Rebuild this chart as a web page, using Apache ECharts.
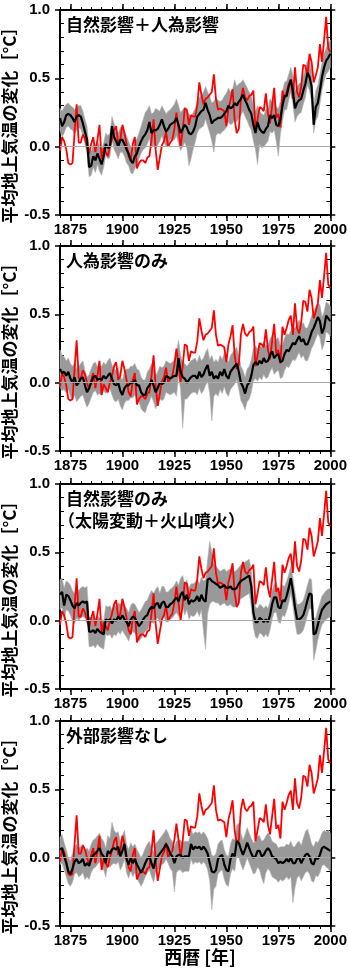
<!DOCTYPE html>
<html>
<head>
<meta charset="utf-8">
<script src="https://cdn.jsdelivr.net/npm/echarts@6/dist/echarts.min.js"></script>
<style>
  html, body { margin: 0; padding: 0; background: #fff; }
  #chart { width: 350px; height: 969px; }
</style>
</head>
<body>
<div id="chart"></div>
<script>
// 年（1870〜2000）
const years = Array.from({ length: 131 }, (_, k) => 1870 + k);
const xMajorTicks = [1875, 1900, 1925, 1950, 1975, 2000];

// 観測値（赤線、全パネル共通）
const observed = [
  -0.03, 0.07, 0.04, -0.02, -0.12, -0.13, -0.12, 0.10, 0.31, 0.03,
  0.03, 0.09, 0.06, 0.00, -0.05, 0.02, 0.07, -0.04, 0.05, 0.16,
  -0.09, -0.01, -0.04, -0.07, 0.00, 0.05, 0.12, 0.15, 0.02, 0.05,
  0.16, 0.10, 0.02, -0.07, -0.10, 0.02, 0.07, -0.16, -0.12, -0.10,
  -0.10, -0.12, -0.08, -0.07, 0.05, 0.20, -0.02, -0.17, -0.08, 0.01,
  0.04, 0.11, 0.00, 0.03, 0.05, 0.13, 0.25, 0.13, 0.00, 0.12,
  0.28, 0.27, 0.16, 0.23, 0.22, 0.22, 0.30, 0.47, 0.38, 0.31,
  0.35, 0.36, 0.38, 0.40, 0.53, 0.35, 0.27, 0.28, 0.27, 0.26,
  0.15, 0.28, 0.34, 0.42, 0.20, 0.10, 0.13, 0.35, 0.43, 0.36,
  0.34, 0.37, 0.38, 0.41, 0.12, 0.20, 0.29, 0.28, 0.26, 0.39,
  0.24, 0.17, 0.30, 0.43, 0.21, 0.24, 0.14, 0.41, 0.35, 0.40,
  0.46, 0.49, 0.35, 0.58, 0.40, 0.36, 0.44, 0.60, 0.59, 0.52,
  0.68, 0.62, 0.47, 0.52, 0.58, 0.75, 0.62, 0.78, 0.95, 0.72,
  0.69
];

// パネル1: 自然影響＋人為影響
const allMean = [
  0.21, 0.15, 0.18, 0.23, 0.24, 0.23, 0.21, 0.18, 0.22, 0.23,
  0.22, 0.17, 0.11, 0.05, -0.15, -0.14, -0.07, -0.10, -0.05, -0.09,
  -0.13, -0.07, 0.02, -0.01, 0.00, 0.15, 0.07, 0.04, 0.00, 0.05,
  0.05, 0.02, -0.02, -0.05, -0.10, -0.12, -0.07, -0.05, 0.00, 0.04,
  0.07, 0.09, 0.12, 0.18, 0.10, 0.12, 0.12, 0.13, 0.16, 0.20,
  0.15, 0.11, 0.13, 0.16, 0.17, 0.18, 0.21, 0.16, 0.10, 0.13,
  0.16, 0.14, 0.10, 0.09, 0.11, 0.15, 0.22, 0.24, 0.26, 0.27,
  0.32, 0.27, 0.23, 0.17, 0.19, 0.20, 0.21, 0.21, 0.22, 0.24,
  0.26, 0.30, 0.28, 0.29, 0.32, 0.30, 0.33, 0.35, 0.38, 0.34,
  0.31, 0.27, 0.24, 0.16, 0.10, 0.18, 0.13, 0.11, 0.10, 0.13,
  0.15, 0.23, 0.21, 0.23, 0.16, 0.15, 0.20, 0.30, 0.37, 0.37,
  0.44, 0.49, 0.41, 0.28, 0.32, 0.34, 0.35, 0.41, 0.46, 0.54,
  0.51, 0.44, 0.16, 0.29, 0.32, 0.41, 0.51, 0.58, 0.63, 0.65,
  0.68
];
const allHigh = [
  0.28, 0.26, 0.29, 0.31, 0.32, 0.30, 0.29, 0.27, 0.29, 0.30,
  0.30, 0.26, 0.20, 0.15, -0.02, -0.03, 0.02, 0.00, 0.04, 0.01,
  -0.02, 0.03, 0.10, 0.08, 0.10, 0.22, 0.17, 0.13, 0.10, 0.14,
  0.14, 0.11, 0.08, 0.04, 0.00, -0.02, 0.04, 0.06, 0.10, 0.15,
  0.20, 0.25, 0.27, 0.30, 0.24, 0.25, 0.28, 0.27, 0.26, 0.30,
  0.27, 0.24, 0.26, 0.27, 0.29, 0.31, 0.35, 0.30, 0.25, 0.27,
  0.29, 0.27, 0.24, 0.22, 0.25, 0.28, 0.33, 0.36, 0.38, 0.40,
  0.44, 0.40, 0.37, 0.32, 0.33, 0.36, 0.34, 0.33, 0.34, 0.37,
  0.39, 0.43, 0.40, 0.42, 0.49, 0.44, 0.46, 0.47, 0.49, 0.46,
  0.43, 0.40, 0.37, 0.30, 0.26, 0.30, 0.26, 0.24, 0.23, 0.27,
  0.28, 0.35, 0.33, 0.35, 0.29, 0.28, 0.33, 0.41, 0.47, 0.48,
  0.53, 0.58, 0.52, 0.41, 0.44, 0.46, 0.47, 0.52, 0.57, 0.63,
  0.62, 0.56, 0.30, 0.41, 0.45, 0.53, 0.61, 0.68, 0.72, 0.75,
  0.78
];
const allLow = [
  0.12, 0.07, 0.10, 0.14, 0.15, 0.13, 0.12, 0.09, 0.12, 0.14,
  0.13, 0.08, 0.02, -0.05, -0.22, -0.21, -0.15, -0.19, -0.13, -0.18,
  -0.21, -0.15, -0.06, -0.09, -0.08, 0.05, -0.02, -0.05, -0.09, -0.04,
  -0.04, -0.07, -0.12, -0.14, -0.19, -0.20, -0.16, -0.13, -0.09, -0.05,
  -0.02, -0.01, 0.02, 0.06, -0.01, 0.01, -0.02, 0.01, 0.04, 0.08,
  0.03, 0.00, 0.01, 0.05, 0.05, 0.05, 0.08, 0.02, -0.03, 0.00,
  0.03, -0.01, -0.14, -0.09, -0.02, 0.03, 0.10, 0.13, 0.14, 0.15,
  0.20, 0.15, 0.10, 0.04, -0.04, 0.08, 0.10, 0.09, 0.11, 0.12,
  0.14, 0.18, 0.16, 0.17, 0.20, 0.18, 0.21, 0.23, 0.26, 0.22,
  0.19, 0.15, 0.12, 0.04, -0.02, -0.13, 0.02, -0.01, 0.00, 0.02,
  0.04, 0.11, 0.10, 0.12, 0.04, -0.07, 0.09, 0.19, 0.27, 0.27,
  0.34, 0.40, 0.31, 0.18, 0.22, 0.24, 0.25, 0.31, 0.36, 0.45,
  0.41, 0.33, 0.10, 0.19, 0.22, 0.31, 0.41, 0.48, 0.53, 0.55,
  0.58
];

// パネル2: 人為影響のみ
const anthMean = [
  0.10, 0.07, 0.08, 0.05, 0.08, 0.03, 0.00, 0.04, -0.02, 0.00,
  0.03, 0.04, -0.02, -0.07, -0.04, 0.00, 0.04, 0.05, 0.02, 0.03,
  0.02, 0.05, 0.03, 0.05, 0.07, 0.03, -0.01, -0.02, 0.00, -0.06,
  -0.09, -0.04, -0.02, -0.02, 0.00, 0.00, 0.02, -0.02, -0.02, -0.07,
  -0.09, -0.09, -0.04, -0.02, 0.02, -0.02, -0.07, -0.04, 0.00, -0.01,
  0.00, 0.05, 0.04, 0.03, 0.04, 0.05, 0.05, 0.18, 0.08, 0.04,
  0.03, 0.00, 0.02, 0.04, 0.05, 0.05, 0.03, 0.08, 0.04, 0.06,
  0.10, 0.13, 0.05, 0.08, 0.03, 0.05, 0.03, 0.08, 0.05, 0.10,
  0.05, 0.03, 0.08, 0.10, 0.12, 0.14, 0.08, 0.00, -0.03, -0.08,
  -0.02, 0.00, 0.05, 0.13, 0.15, 0.13, 0.16, 0.14, 0.18, 0.15,
  0.16, 0.20, 0.23, 0.18, 0.20, 0.21, 0.15, 0.16, 0.21, 0.24,
  0.23, 0.26, 0.29, 0.28, 0.31, 0.34, 0.30, 0.32, 0.28, 0.28,
  0.32, 0.37, 0.40, 0.44, 0.48, 0.45, 0.36, 0.40, 0.49, 0.47,
  0.45
];
const anthHigh = [
  0.24, 0.20, 0.19, 0.16, 0.18, 0.14, 0.12, 0.15, 0.10, 0.12,
  0.14, 0.16, 0.09, 0.04, 0.06, 0.10, 0.14, 0.15, 0.12, 0.13,
  0.12, 0.15, 0.13, 0.16, 0.18, 0.13, 0.10, 0.09, 0.11, 0.05,
  0.02, 0.08, 0.10, 0.10, 0.12, 0.12, 0.14, 0.10, 0.09, 0.04,
  0.02, 0.02, 0.08, 0.10, 0.14, 0.10, 0.05, 0.08, 0.12, 0.11,
  0.12, 0.16, 0.15, 0.14, 0.15, 0.17, 0.22, 0.31, 0.20, 0.15,
  0.14, 0.12, 0.14, 0.16, 0.17, 0.18, 0.15, 0.20, 0.16, 0.18,
  0.22, 0.25, 0.17, 0.20, 0.15, 0.17, 0.15, 0.20, 0.17, 0.22,
  0.17, 0.15, 0.20, 0.22, 0.24, 0.26, 0.20, 0.12, 0.09, 0.04,
  0.10, 0.12, 0.17, 0.25, 0.27, 0.25, 0.28, 0.26, 0.30, 0.27,
  0.28, 0.32, 0.35, 0.30, 0.32, 0.33, 0.27, 0.28, 0.33, 0.36,
  0.35, 0.38, 0.41, 0.40, 0.43, 0.46, 0.42, 0.44, 0.40, 0.40,
  0.44, 0.49, 0.52, 0.56, 0.58, 0.57, 0.48, 0.52, 0.59, 0.58,
  0.56
];
const anthLow = [
  -0.03, -0.06, -0.05, -0.08, -0.05, -0.10, -0.13, -0.09, -0.14, -0.12,
  -0.10, -0.09, -0.14, -0.18, -0.15, -0.11, -0.07, -0.06, -0.09, -0.08,
  -0.09, -0.06, -0.08, -0.06, -0.04, -0.09, -0.13, -0.14, -0.12, -0.17,
  -0.20, -0.15, -0.13, -0.13, -0.11, -0.11, -0.09, -0.13, -0.14, -0.19,
  -0.21, -0.22, -0.17, -0.14, -0.10, -0.14, -0.19, -0.16, -0.12, -0.13,
  -0.12, -0.07, -0.08, -0.09, -0.08, -0.07, -0.10, 0.04, -0.05, -0.33,
  -0.12, -0.12, -0.10, -0.08, -0.07, -0.07, -0.09, -0.04, -0.08, -0.06,
  -0.02, 0.01, -0.08, -0.28, -0.10, -0.08, -0.10, -0.05, -0.08, -0.03,
  -0.08, -0.10, -0.05, -0.03, -0.01, 0.02, -0.05, -0.13, -0.16, -0.20,
  -0.14, -0.12, -0.07, 0.01, 0.03, 0.01, 0.04, 0.02, 0.06, 0.03,
  0.04, 0.08, 0.11, 0.06, 0.08, 0.09, 0.03, 0.04, 0.09, 0.12,
  0.11, 0.14, 0.17, 0.16, 0.19, 0.22, 0.18, 0.20, 0.16, 0.16,
  0.20, 0.25, 0.28, 0.32, 0.36, 0.33, 0.24, 0.28, 0.37, 0.36,
  0.34
];

// パネル3: 自然影響のみ
const natMean = [
  0.19, 0.21, 0.11, 0.19, 0.18, 0.15, 0.11, 0.09, 0.13, 0.11,
  0.13, 0.14, 0.13, 0.14, -0.08, -0.08, -0.07, -0.09, -0.06, -0.08,
  -0.09, -0.10, 0.01, 0.00, 0.01, -0.02, 0.01, 0.00, 0.03, 0.01,
  0.04, 0.01, -0.01, -0.04, 0.01, 0.03, 0.02, -0.01, -0.04, -0.02,
  0.01, 0.03, 0.04, 0.08, 0.10, 0.09, 0.12, 0.13, 0.09, 0.13,
  0.14, 0.10, 0.10, 0.12, 0.13, 0.15, 0.17, 0.14, 0.19, 0.21,
  0.15, 0.19, 0.12, 0.15, 0.14, 0.15, 0.18, 0.14, 0.19, 0.15,
  0.14, 0.30, 0.31, 0.29, 0.28, 0.27, 0.26, 0.24, 0.25, 0.26,
  0.24, 0.24, 0.25, 0.23, 0.23, 0.24, 0.27, 0.29, 0.30, 0.31,
  0.32, 0.33, 0.25, 0.06, -0.01, -0.01, 0.02, 0.01, -0.01, 0.01,
  -0.01, 0.04, 0.12, 0.17, 0.17, 0.10, 0.09, 0.15, 0.14, 0.18,
  0.24, 0.31, 0.22, 0.10, 0.01, 0.01, 0.02, 0.04, 0.09, 0.15,
  0.20, 0.19, -0.10, -0.09, -0.03, 0.03, 0.08, 0.10, 0.12, 0.13,
  0.14
];
const natHigh = [
  0.30, 0.31, 0.24, 0.29, 0.28, 0.26, 0.22, 0.20, 0.24, 0.22,
  0.24, 0.25, 0.24, 0.25, 0.03, 0.02, 0.03, 0.01, 0.04, 0.02,
  0.01, 0.00, 0.11, 0.10, 0.11, 0.08, 0.12, 0.10, 0.13, 0.12,
  0.14, 0.11, 0.09, 0.06, 0.11, 0.13, 0.12, 0.09, 0.06, 0.08,
  0.11, 0.14, 0.15, 0.19, 0.22, 0.20, 0.23, 0.25, 0.20, 0.25,
  0.25, 0.21, 0.21, 0.23, 0.24, 0.26, 0.29, 0.26, 0.31, 0.33,
  0.27, 0.30, 0.24, 0.27, 0.27, 0.28, 0.31, 0.27, 0.32, 0.29,
  0.30, 0.45, 0.58, 0.50, 0.42, 0.40, 0.38, 0.36, 0.37, 0.38,
  0.36, 0.37, 0.38, 0.36, 0.36, 0.37, 0.39, 0.41, 0.42, 0.43,
  0.44, 0.45, 0.37, 0.20, 0.10, 0.09, 0.12, 0.11, 0.09, 0.11,
  0.09, 0.14, 0.22, 0.27, 0.28, 0.21, 0.20, 0.26, 0.25, 0.29,
  0.34, 0.40, 0.32, 0.21, 0.12, 0.12, 0.13, 0.15, 0.20, 0.26,
  0.31, 0.30, 0.02, 0.02, 0.08, 0.13, 0.18, 0.20, 0.22, 0.23,
  0.24
];
const natLow = [
  0.08, 0.10, 0.00, 0.08, 0.07, 0.04, 0.00, -0.02, 0.02, 0.00,
  0.02, 0.03, 0.02, 0.03, -0.19, -0.19, -0.18, -0.20, -0.17, -0.19,
  -0.20, -0.21, -0.10, -0.11, -0.10, -0.13, -0.10, -0.11, -0.08, -0.10,
  -0.07, -0.10, -0.12, -0.15, -0.10, -0.08, -0.09, -0.12, -0.15, -0.13,
  -0.10, -0.08, -0.07, -0.03, -0.01, -0.02, 0.01, 0.02, -0.02, 0.02,
  0.03, -0.01, -0.01, 0.01, 0.02, 0.04, 0.06, 0.03, 0.08, 0.10,
  0.04, 0.08, 0.01, 0.04, 0.03, 0.04, 0.07, 0.03, 0.08, -0.08,
  -0.21, 0.05, 0.12, 0.14, 0.14, 0.13, 0.13, 0.11, 0.12, 0.13,
  0.11, 0.11, 0.12, 0.10, 0.10, 0.11, 0.14, 0.16, 0.17, 0.18,
  0.19, 0.20, 0.10, -0.05, -0.12, -0.13, -0.09, -0.10, -0.12, -0.10,
  -0.12, -0.07, 0.01, 0.06, 0.06, -0.01, -0.02, 0.04, 0.03, 0.07,
  0.13, 0.20, 0.11, -0.01, -0.10, -0.10, -0.09, -0.07, -0.02, 0.04,
  0.09, 0.08, -0.29, -0.22, -0.14, -0.08, -0.03, -0.01, 0.01, 0.02,
  0.03
];

// パネル4: 外部影響なし
const ctrlMean = [
  0.06, 0.07, 0.01, -0.04, -0.10, -0.12, -0.08, -0.03, -0.01, -0.04,
  -0.03, -0.01, -0.06, -0.04, -0.06, -0.01, 0.02, 0.03, 0.05, 0.07,
  0.03, 0.01, -0.04, 0.05, 0.03, 0.06, 0.07, 0.06, 0.08, 0.01,
  0.05, 0.10, -0.01, -0.05, 0.00, -0.04, -0.01, -0.05, -0.08, -0.11,
  -0.08, -0.04, -0.01, 0.01, -0.04, -0.08, -0.01, 0.01, 0.03, 0.05,
  0.07, 0.10, 0.07, 0.03, 0.01, -0.04, 0.01, 0.02, 0.02, 0.00,
  0.01, 0.01, 0.01, 0.10, 0.06, 0.08, 0.07, 0.08, 0.06, 0.08,
  0.06, 0.03, -0.04, -0.10, -0.11, -0.09, -0.01, 0.01, 0.02, -0.05,
  -0.09, -0.10, -0.01, 0.03, 0.01, 0.12, 0.11, 0.06, 0.02, 0.06,
  0.11, 0.07, 0.03, 0.00, 0.01, 0.05, 0.05, 0.01, 0.02, 0.05,
  0.07, 0.05, 0.01, 0.00, -0.01, -0.04, -0.03, -0.04, -0.03, -0.01,
  -0.03, 0.00, -0.04, -0.04, -0.01, 0.00, -0.04, -0.01, 0.02, 0.03,
  0.01, -0.04, -0.05, 0.00, -0.01, 0.02, 0.07, 0.08, 0.07, 0.06,
  0.05
];
const ctrlHigh = [
  0.15, 0.17, 0.11, 0.06, 0.00, -0.02, 0.03, 0.08, 0.10, 0.07,
  0.08, 0.10, 0.05, 0.07, 0.05, 0.10, 0.13, 0.14, 0.16, 0.18,
  0.14, 0.12, 0.07, 0.16, 0.14, 0.26, 0.20, 0.18, 0.19, 0.12,
  0.16, 0.20, 0.10, 0.06, 0.11, 0.08, 0.10, 0.06, 0.03, 0.00,
  0.03, 0.07, 0.10, 0.12, 0.07, 0.04, 0.10, 0.12, 0.14, 0.16,
  0.18, 0.21, 0.18, 0.14, 0.12, 0.08, 0.12, 0.13, 0.13, 0.11,
  0.12, 0.12, 0.12, 0.21, 0.17, 0.19, 0.18, 0.19, 0.17, 0.19,
  0.17, 0.14, 0.08, 0.02, 0.01, 0.03, 0.10, 0.12, 0.13, 0.06,
  0.02, 0.01, 0.10, 0.14, 0.13, 0.24, 0.25, 0.18, 0.13, 0.17,
  0.22, 0.18, 0.14, 0.11, 0.12, 0.16, 0.16, 0.12, 0.13, 0.16,
  0.18, 0.16, 0.12, 0.11, 0.10, 0.07, 0.08, 0.08, 0.08, 0.10,
  0.09, 0.12, 0.08, 0.08, 0.11, 0.12, 0.09, 0.14, 0.19, 0.21,
  0.16, 0.10, 0.08, 0.12, 0.11, 0.14, 0.18, 0.20, 0.19, 0.20,
  0.18
];
const ctrlLow = [
  -0.05, -0.04, -0.09, -0.14, -0.19, -0.21, -0.18, -0.12, -0.11, -0.14,
  -0.13, -0.11, -0.16, -0.14, -0.16, -0.11, -0.08, -0.07, -0.05, -0.03,
  -0.07, -0.09, -0.14, -0.05, -0.07, -0.05, -0.04, -0.05, -0.03, -0.09,
  -0.06, -0.01, -0.11, -0.15, -0.10, -0.14, -0.11, -0.15, -0.18, -0.21,
  -0.18, -0.14, -0.11, -0.09, -0.14, -0.18, -0.11, -0.09, -0.07, -0.05,
  -0.04, -0.01, -0.04, -0.08, -0.10, -0.25, -0.11, -0.09, -0.09, -0.11,
  -0.10, -0.10, -0.10, -0.01, -0.05, -0.03, -0.04, -0.03, -0.05, -0.03,
  -0.05, -0.09, -0.17, -0.38, -0.23, -0.21, -0.12, -0.10, -0.09, -0.16,
  -0.20, -0.21, -0.12, -0.08, -0.10, 0.01, 0.00, -0.05, -0.09, -0.05,
  0.00, -0.04, -0.08, -0.12, -0.11, -0.07, -0.09, -0.15, -0.19, -0.11,
  -0.08, -0.10, -0.14, -0.15, -0.16, -0.18, -0.16, -0.17, -0.16, -0.14,
  -0.16, -0.14, -0.33, -0.22, -0.15, -0.13, -0.17, -0.14, -0.11, -0.10,
  -0.12, -0.17, -0.18, -0.13, -0.14, -0.11, -0.06, -0.05, -0.07, -0.08,
  -0.10
];

const panelTitles = [
  ["自然影響＋人為影響"],
  ["人為影響のみ"],
  ["自然影響のみ", "（太陽変動＋火山噴火）"],
  ["外部影響なし"]
];
const panelData = [
  { mean: allMean, low: allLow, high: allHigh },
  { mean: anthMean, low: anthLow, high: anthHigh },
  { mean: natMean, low: natLow, high: natHigh },
  { mean: ctrlMean, low: ctrlLow, high: ctrlHigh }
];
const panelTops = [10, 246, 484, 721];
const panelHeight = 205;

const numFont = { fontFamily: "Liberation Sans", fontWeight: "bold", fontSize: 15, color: "#000" };
const jpFont = '"Noto Sans CJK JP", sans-serif';

const grids = [], xAxes = [], yAxes = [], series = [], graphics = [];

panelTops.forEach((top, i) => {
  grids.push({ left: 60, width: 272, top: top, height: panelHeight });

  // x軸: 5年ごとの小目盛りと25年ごとの大目盛り（上下）
  ["bottom", "top"].forEach(pos => {
    xAxes.push({
      gridIndex: i, type: "value", position: pos, min: 1870, max: 2000, interval: 5,
      axisLine: { show: true, onZero: false, lineStyle: { color: "#000", width: 2 } },
      axisTick: { show: true, length: 3, lineStyle: { color: "#000", width: 1 } },
      axisLabel: pos === "bottom"
        ? Object.assign({ margin: 7, formatter: v => (v % 25 === 0 ? String(v) : "") }, numFont)
        : { show: false },
      splitLine: { show: false }
    });
    xAxes.push({
      gridIndex: i, type: "value", position: pos, min: 1870, max: 2000,
      axisLine: { show: false, onZero: false },
      axisTick: { show: true, length: 6, customValues: xMajorTicks, lineStyle: { color: "#000", width: 1.5 } },
      axisLabel: { show: false },
      splitLine: { show: false }
    });
  });

  // y軸: 0.5ごとの大目盛り（外向き）と0.1ごとの小目盛り（内向き）
  ["left", "right"].forEach(pos => {
    yAxes.push({
      gridIndex: i, type: "value", position: pos, min: -0.5, max: 1.0, interval: 0.5,
      axisLine: { show: true, onZero: false, lineStyle: { color: "#000", width: 2 } },
      axisTick: { show: true, length: 5, lineStyle: { color: "#000", width: 1.5 } },
      axisLabel: pos === "left"
        ? Object.assign({ margin: 10, formatter: v => v.toFixed(1) }, numFont)
        : { show: false },
      splitLine: { show: false }
    });
    yAxes.push({
      gridIndex: i, type: "value", position: pos, min: -0.5, max: 1.0, interval: 0.1,
      axisLine: { show: false, onZero: false },
      axisTick: { show: true, inside: true, length: 4, lineStyle: { color: "#000", width: 1 } },
      axisLabel: { show: false },
      splitLine: { show: false }
    });
  });

  const d = panelData[i];
  const xi = i * 4, yi = i * 4;

  // 灰色の幅（モデルの範囲）
  series.push({
    type: "custom", xAxisIndex: xi, yAxisIndex: yi, z: 2, silent: true,
    data: years.map((y, k) => [y, d.low[k], d.high[k]]),
    encode: { x: 0, y: [1, 2] },
    renderItem: (params, api) => {
      if (params.dataIndex !== 0) return null;
      const upper = years.map((y, k) => api.coord([y, d.high[k]]));
      const lower = years.map((y, k) => api.coord([y, d.low[k]])).reverse();
      return {
        type: "polygon",
        shape: { points: upper.concat(lower) },
        style: { fill: "#999999", stroke: "#b4b4b4", lineWidth: 0.6 }
      };
    }
  });

  // 観測値（赤）
  series.push({
    type: "line", xAxisIndex: xi, yAxisIndex: yi, z: 3, silent: true,
    data: years.map((y, k) => [y, observed[k]]),
    showSymbol: false,
    lineStyle: { color: "#ff0000", width: 1.8 },
    markLine: {
      silent: true, symbol: "none", label: { show: false },
      lineStyle: { color: "#aaaaaa", width: 1, type: "solid" },
      data: [{ yAxis: 0 }]
    }
  });

  // モデル平均（黒）
  series.push({
    type: "line", xAxisIndex: xi, yAxisIndex: yi, z: 4, silent: true,
    data: years.map((y, k) => [y, d.mean[k]]),
    showSymbol: false,
    lineStyle: { color: "#000000", width: 2.2 }
  });

  // パネル見出し
  panelTitles[i].forEach((t, j) => {
    graphics.push({
      type: "text", x: j === 0 ? 66 : 58, y: top + 15 + j * 22, z: 10,
      style: { text: t, font: "bold 17px " + jpFont, fill: "#000", verticalAlign: "middle" }
    });
  });

  // 縦軸名
  graphics.push({
    type: "text", x: 10, y: top + 111, rotation: Math.PI / 2, z: 10,
    style: { text: "平均地上気温の変化［°C］", font: "bold 17px " + jpFont, fill: "#000",
      align: "center", verticalAlign: "middle" }
  });
});

// 横軸名
graphics.push({
  type: "text", x: 200, y: 957, z: 10,
  style: { text: "西暦 [年]", font: "bold 18px " + jpFont, fill: "#000", align: "center", verticalAlign: "middle" }
});

const chart = echarts.init(document.getElementById("chart"));
chart.setOption({
  animation: false,
  backgroundColor: "#fff",
  grid: grids,
  xAxis: xAxes,
  yAxis: yAxes,
  series: series,
  graphic: graphics
});
</script>
</body>
</html>
